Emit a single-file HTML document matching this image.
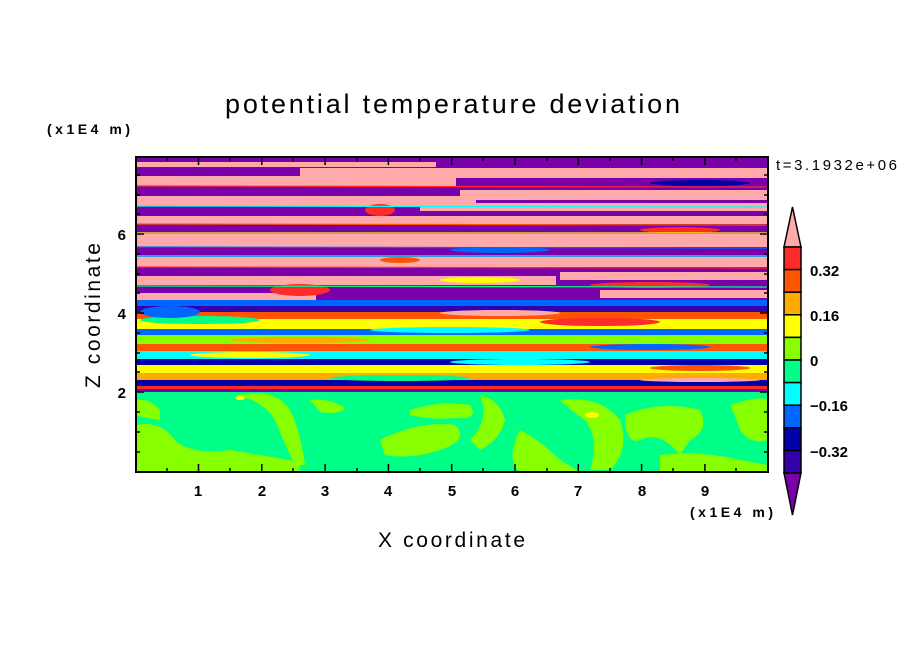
<!DOCTYPE html>
<html><head><meta charset="utf-8"><style>
html,body{margin:0;padding:0;background:#fff;}
svg{display:block;}
text{font-family:"Liberation Sans",sans-serif;fill:#000;}
</style></head><body>
<svg width="904" height="654" viewBox="0 0 904 654" xmlns="http://www.w3.org/2000/svg">
<defs><clipPath id="c"><rect x="136" y="157" width="632" height="315"/></clipPath></defs>
<g clip-path="url(#c)">
<rect x="136" y="392" width="632" height="80" fill="#00ff88"/>
<g fill="#88ff00">
<path d="M136,425 Q160,420 175,440 Q190,455 230,450 Q260,455 300,462 L300,472 L136,472 Z"/>
<path d="M136,400 Q150,398 160,410 L160,420 Q145,418 136,415 Z"/>
<path d="M236,395 Q262,400 275,420 Q285,445 295,465 L305,465 Q300,430 290,410 Q280,395 260,393 Z"/>
<path d="M310,400 Q330,398 345,408 Q340,415 320,412 Z"/>
<path d="M380,440 Q420,420 455,425 Q470,440 440,450 Q410,460 385,455 Z"/>
<path d="M410,410 Q440,400 470,405 Q480,420 455,418 Q430,420 410,415 Z"/>
<path d="M480,395 Q500,400 505,420 Q500,440 480,450 L470,440 Q490,420 480,395 Z"/>
<path d="M520,430 Q540,440 560,460 L580,472 L520,472 Q505,460 520,430 Z"/>
<path d="M560,400 Q600,395 620,420 Q630,450 610,470 L590,470 Q600,440 585,420 Q570,410 560,400 Z"/>
<path d="M625,415 Q660,400 700,410 Q710,430 690,440 L680,455 Q660,430 640,440 Q625,445 625,415 Z"/>
<path d="M660,455 Q700,450 740,460 L768,465 L768,472 L660,472 Z"/>
<path d="M730,405 Q760,395 768,400 L768,440 Q750,445 740,430 Q735,415 730,405 Z"/>
<path d="M200,455 Q230,450 250,460 L250,472 L200,472 Z"/>
</g>
<ellipse cx="592" cy="415" rx="7" ry="3" fill="#ffff00"/>
<ellipse cx="240" cy="398" rx="5" ry="2" fill="#ffff00"/>
<rect x="136" y="157" width="632" height="235" fill="#7a00aa"/>
<g fill="#ffaaaa">
<rect x="136" y="162" width="300" height="5"/>
<rect x="300" y="168" width="468" height="10"/>
<rect x="136" y="176" width="320" height="10"/>
<rect x="460" y="190" width="308" height="10"/>
<rect x="136" y="196" width="340" height="10"/>
<rect x="420" y="203" width="348" height="8"/>
<rect x="136" y="216" width="632" height="8"/>
<rect x="136" y="234" width="632" height="13"/>
<rect x="136" y="257" width="632" height="10"/>
<rect x="136" y="276" width="420" height="9"/>
<rect x="560" y="272" width="208" height="8"/>
<rect x="136" y="293" width="180" height="8"/>
<rect x="600" y="290" width="168" height="8"/>
<rect x="430" y="303" width="140" height="6"/>
<rect x="600" y="150" width="80" height="8"/>
</g>
<rect x="136" y="300" width="632" height="92" fill="#88ff00"/>
<g>
<rect x="136" y="300" width="632" height="6" fill="#0066ff"/>
<rect x="136" y="306" width="632" height="6" fill="#3300aa"/>
<rect x="136" y="312" width="632" height="7" fill="#ff5500"/>
<rect x="136" y="319" width="632" height="10" fill="#ffff00"/>
<rect x="136" y="329" width="632" height="6" fill="#0066ff"/>
<rect x="136" y="335" width="632" height="9" fill="#88ff00"/>
<rect x="136" y="344" width="632" height="7" fill="#ff5500"/>
<rect x="136" y="351" width="632" height="8" fill="#00ffff"/>
<rect x="136" y="359" width="632" height="6" fill="#0000aa"/>
<rect x="136" y="365" width="632" height="8" fill="#ffff00"/>
<rect x="136" y="373" width="632" height="7" fill="#ffaa00"/>
<rect x="136" y="380" width="632" height="6" fill="#0000aa"/>
<rect x="136" y="386" width="632" height="3" fill="#ff2a2a"/>
<rect x="136" y="389" width="632" height="3" fill="#7a00aa"/>
</g>
<g>
<ellipse cx="200" cy="320" rx="60" ry="4" fill="#00ff88"/>
<ellipse cx="450" cy="330" rx="80" ry="3" fill="#00ffff"/>
<ellipse cx="600" cy="322" rx="60" ry="4" fill="#ff2a2a"/>
<ellipse cx="300" cy="340" rx="70" ry="3" fill="#ffaa00"/>
<ellipse cx="650" cy="347" rx="60" ry="3" fill="#0066ff"/>
<ellipse cx="250" cy="355" rx="60" ry="3" fill="#ffff00"/>
<ellipse cx="520" cy="362" rx="70" ry="3" fill="#00ffff"/>
<ellipse cx="400" cy="378" rx="70" ry="3" fill="#00ff88"/>
<ellipse cx="700" cy="368" rx="50" ry="3" fill="#ff5500"/>
<ellipse cx="170" cy="312" rx="30" ry="6" fill="#0066ff"/>
<ellipse cx="500" cy="313" rx="60" ry="3" fill="#ffaaaa"/>
<ellipse cx="700" cy="380" rx="60" ry="2" fill="#ffaaaa"/>
<ellipse cx="300" cy="290" rx="30" ry="6" fill="#ff2a2a"/>
<ellipse cx="480" cy="280" rx="40" ry="3" fill="#ffff00"/>
<ellipse cx="650" cy="285" rx="60" ry="3" fill="#ff2a2a"/>
<ellipse cx="380" cy="210" rx="15" ry="6" fill="#ff2a2a"/>
<ellipse cx="680" cy="230" rx="40" ry="3" fill="#ff2a2a"/>
<ellipse cx="400" cy="260" rx="20" ry="3" fill="#ff5500"/>
<ellipse cx="500" cy="250" rx="50" ry="3" fill="#0066ff"/>
<ellipse cx="700" cy="183" rx="50" ry="3" fill="#0000aa"/>
</g>
<g stroke-width="1.2" fill="none">
<line x1="136" y1="186" x2="768" y2="187" stroke="#ff2a2a"/>
<line x1="136" y1="206" x2="768" y2="207" stroke="#00ffff"/>
<line x1="136" y1="224" x2="768" y2="225" stroke="#ff5500"/>
<line x1="136" y1="247" x2="768" y2="248" stroke="#0066ff"/>
<line x1="136" y1="267" x2="768" y2="268" stroke="#ff2a2a"/>
<line x1="136" y1="233" x2="768" y2="233" stroke="#ffff00"/>
<line x1="136" y1="256" x2="768" y2="256" stroke="#00ffff"/>
<line x1="136" y1="286" x2="768" y2="287" stroke="#00ff88"/>
</g>
</g>
<rect x="136" y="157" width="632" height="315" fill="none" stroke="#000" stroke-width="2"/>
<g stroke="#000" stroke-width="1.5">
<path d="M198.5,472v-8M261.8,472v-8M325.1,472v-8M388.4,472v-8M451.7,472v-8M515,472v-8M578.3,472v-8M641.6,472v-8M704.9,472v-8
M198.5,157v8M261.8,157v8M325.1,157v8M388.4,157v8M451.7,157v8M515,157v8M578.3,157v8M641.6,157v8M704.9,157v8"/>
<path d="M167,472v-4M230,472v-4M293,472v-4M357,472v-4M420,472v-4M483,472v-4M547,472v-4M610,472v-4M673,472v-4M736,472v-4
M167,157v4M230,157v4M293,157v4M357,157v4M420,157v4M483,157v4M547,157v4M610,157v4M673,157v4M736,157v4"/>
<path d="M136,392h8M136,313h8M136,234h8M768,392h-8M768,313h-8M768,234h-8"/>
<path d="M136,452h4M136,432h4M136,412h4M136,372h4M136,353h4M136,333h4M136,293h4M136,274h4M136,254h4M136,214h4M136,195h4M136,175h4
M768,452h-4M768,432h-4M768,412h-4M768,372h-4M768,353h-4M768,333h-4M768,293h-4M768,274h-4M768,254h-4M768,214h-4M768,195h-4M768,175h-4"/>
</g>
<g font-size="15" font-weight="bold" text-anchor="middle">
<text x="198" y="496">1</text><text x="262" y="496">2</text><text x="325" y="496">3</text>
<text x="388" y="496">4</text><text x="452" y="496">5</text><text x="515" y="496">6</text>
<text x="578" y="496">7</text><text x="642" y="496">8</text><text x="705" y="496">9</text>
</g>
<g font-size="15" font-weight="bold" text-anchor="end">
<text x="126" y="398">2</text><text x="126" y="319">4</text><text x="126" y="240">6</text>
</g>
<text x="225" y="113" font-size="27" textLength="455" lengthAdjust="spacing">potential temperature deviation</text>
<text x="47" y="134" font-size="14" font-weight="bold" textLength="83" lengthAdjust="spacing">(x1E4 m)</text>
<text x="690" y="517" font-size="14" font-weight="bold" textLength="83" lengthAdjust="spacing">(x1E4 m)</text>
<text x="378" y="547" font-size="21" textLength="147" lengthAdjust="spacing">X coordinate</text>
<text transform="translate(100,388) rotate(-90)" font-size="21" textLength="145" lengthAdjust="spacing">Z coordinate</text>
<text x="776" y="170" font-size="15" textLength="121" lengthAdjust="spacing">t=3.1932e+06</text>
<g stroke="#000" stroke-width="1.5">
<path d="M792.5,207 L801,247 L784,247 Z" fill="#ffaaaa"/>
<rect x="784" y="247" width="17" height="22.6" fill="#ff2a2a"/>
<rect x="784" y="269.6" width="17" height="22.6" fill="#ff5500"/>
<rect x="784" y="292.2" width="17" height="22.6" fill="#ffaa00"/>
<rect x="784" y="314.8" width="17" height="22.6" fill="#ffff00"/>
<rect x="784" y="337.4" width="17" height="22.6" fill="#88ff00"/>
<rect x="784" y="360" width="17" height="22.6" fill="#00ff88"/>
<rect x="784" y="382.6" width="17" height="22.6" fill="#00ffff"/>
<rect x="784" y="405.2" width="17" height="22.6" fill="#0066ff"/>
<rect x="784" y="427.8" width="17" height="22.6" fill="#0000aa"/>
<rect x="784" y="450.4" width="17" height="22.6" fill="#3300aa"/>
<path d="M784,473 L801,473 L792.5,515 Z" fill="#7a00aa"/>
</g>
<g font-size="15" font-weight="bold">
<text x="810" y="276">0.32</text>
<text x="810" y="321">0.16</text>
<text x="810" y="366">0</text>
<text x="810" y="411">−0.16</text>
<text x="810" y="457">−0.32</text>
</g>
</svg>
</body></html>
